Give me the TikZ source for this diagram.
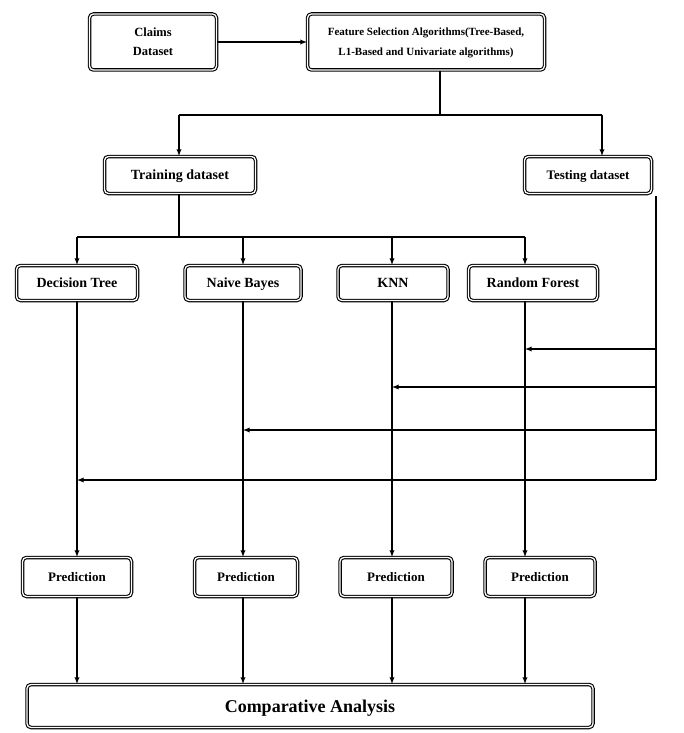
\documentclass[tikz,border=0pt]{standalone}
\usepackage{fontspec}
\setmainfont{Liberation Serif}
\begin{document}
\begin{tikzpicture}[x=1pt,y=-1pt]
    \tikzstyle{box}=[draw,rounded corners=4pt,line width=1.1pt,double=white,double distance=1.3pt,align=center,inner sep=2pt,text depth=0pt,font=\bfseries\fontsize{14}{15}\selectfont]
    \tikzstyle{link}=[line width=1.3pt,-latex]
    \tikzstyle{wire}=[line width=1.3pt]
    \useasboundingbox (0,0) rectangle (683,733);

    % top row
    \node(claims)[box,minimum width=127pt,minimum height=56pt,font=\bfseries\fontsize{12.5}{19}\selectfont] at (153,42) {Claims\\Dataset};
    \node(fs)[box,minimum width=237pt,minimum height=56pt,font=\bfseries\fontsize{11}{20}\selectfont] at (426,42) {Feature Selection Algorithms(Tree-Based,\\L1-Based and Univariate algorithms)};

    % datasets
    \node(train)[box,minimum width=151pt,minimum height=37pt] at (180,175) {Training dataset};
    \node(test)[box,minimum width=127pt,minimum height=37pt,font=\bfseries\fontsize{13}{15}\selectfont] at (588,175) {Testing dataset};

    % models
    \node(dt)[box,minimum width=121pt,minimum height=35pt] at (77,283) {Decision Tree};
    \node(nb)[box,minimum width=116pt,minimum height=35pt] at (243,283) {Naive Bayes};
    \node(knn)[box,minimum width=110pt,minimum height=35pt] at (393,283) {KNN};
    \node(rf)[box,minimum width=129pt,minimum height=35pt] at (533,283) {Random Forest};

    % predictions
    \tikzstyle{pred}=[box,minimum height=39pt,font=\bfseries\fontsize{13}{15}\selectfont]
    \node(p1)[pred,minimum width=109pt] at (77,577) {Prediction};
    \node(p2)[pred,minimum width=103pt] at (246,577) {Prediction};
    \node(p3)[pred,minimum width=112pt] at (396,577) {Prediction};
    \node(p4)[pred,minimum width=110pt] at (540,577) {Prediction};

    \node(comp)[box,minimum width=566pt,minimum height=43pt,font=\bfseries\fontsize{18}{20}\selectfont] at (310,706) {Comparative Analysis};

    % bus points
    \coordinate (split) at (440,115);
    \coordinate (sl) at (179,115);
    \coordinate (sr) at (602,115);
    \coordinate (tb) at (179,237);
    \coordinate (c1) at (77,237);
    \coordinate (c2) at (243,237);
    \coordinate (c3) at (392,237);
    \coordinate (c4) at (525,237);
    \coordinate (t0) at (656,196);
    \coordinate (t1) at (656,349);
    \coordinate (t2) at (656,387);
    \coordinate (t3) at (656,430);
    \coordinate (t4) at (656,480);

    \draw[link] (claims) -- (fs);
    \draw[wire] (split |- fs.south) -- (split);
    \draw[wire] (sl) -- (sr);
    \draw[link] (sl) -- (sl |- train.north);
    \draw[link] (sr) -- (sr |- test.north);

    \draw[wire] (tb |- train.south) -- (tb);
    \draw[wire] (c1) -- (c4);
    \foreach \c/\m/\p in {c1/dt/p1,c2/nb/p2,c3/knn/p3,c4/rf/p4}{
        \draw[link] (\c) -- (\c |- \m.north);
        \draw[link] (\c |- \m.south) -- (\c |- \p.north);
        \draw[link] (\c |- \p.south) -- (\c |- comp.north);
    }

    % testing feed
    \draw[wire] (t0) -- (t4);
    \draw[link] (t1) -- (c4 |- t1);
    \draw[link] (t2) -- (c3 |- t2);
    \draw[link] (t3) -- (c2 |- t3);
    \draw[link] (t4) -- (c1 |- t4);
\end{tikzpicture}
\end{document}
